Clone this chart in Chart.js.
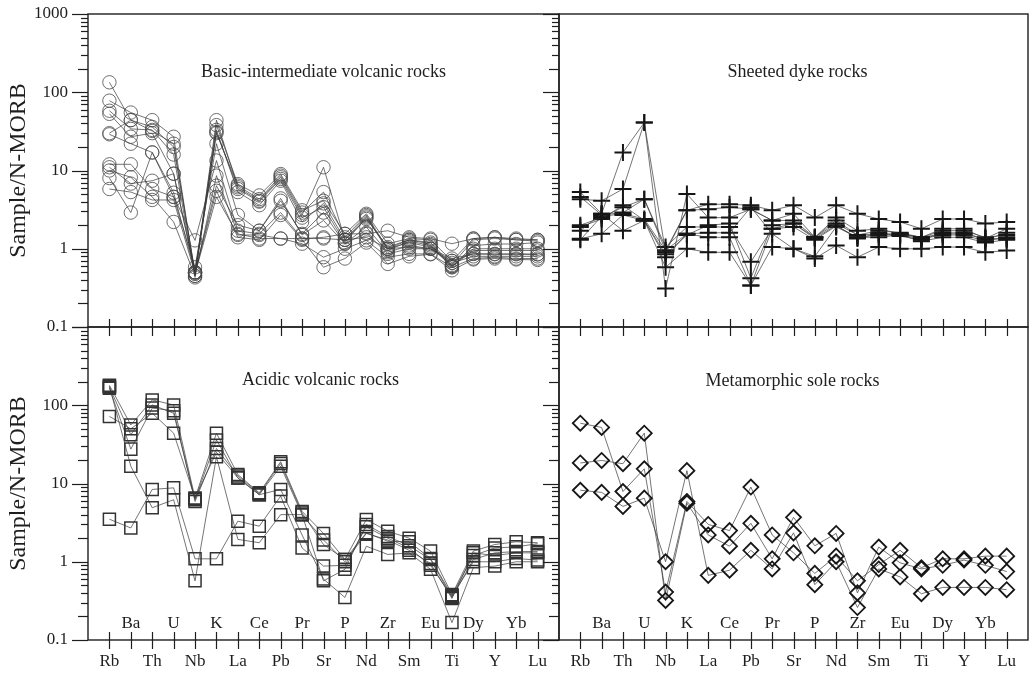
<!DOCTYPE html>
<html>
<head>
<meta charset="utf-8">
<title>N-MORB normalized spider diagrams</title>
<script src="https://cdn.jsdelivr.net/npm/chart.js@4.4.1/dist/chart.umd.min.js"></script>
<style>
  html, body { margin: 0; padding: 0; background: #fff; }
  #wrap { position: relative; width: 1031px; height: 673px; }
  #wrap canvas { position: absolute; left: 0; top: 0; }
</style>
</head>
<body>
<div id="wrap">
  <canvas id="basic" width="1031" height="673"></canvas>
  <canvas id="sheeted" width="1031" height="673"></canvas>
  <canvas id="acidic" width="1031" height="673"></canvas>
  <canvas id="sole" width="1031" height="673"></canvas>
</div>
<script>
// Element order along the x axis (N-MORB normalised)
const ELEMENTS = ['Rb','Ba','Th','U','Nb','K','La','Ce','Pb','Pr','Sr','P','Nd','Zr','Sm','Eu','Ti','Dy','Y','Yb','Lu'];
const Y_TICKS = [0.1, 1, 10, 100, 1000];
const Y_TICK_LABELS = ['0.1', '1', '10', '100', '1000'];

// Basic-intermediate volcanic rocks (one row per sample)
const BASIC = [
  [134, 44, 36, 20, 0.50, 38, 6.7, 4.8, 9.0, 3.1, 4.1, 1.55, 2.8, 1.16, 1.35, 1.30, 0.70, 1.35, 1.40, 1.35, 1.30],
  [78, 55, 44, 27, 0.45, 44, 6.1, 4.1, 8.2, 2.7, 11, 1.30, 2.4, 1.05, 1.30, 1.20, 0.62, 1.30, 1.35, 1.30, 1.25],
  [58, 34, 33, 16, 0.43, 33, 5.3, 3.6, 7.4, 2.2, 3.8, 1.30, 2.6, 0.95, 1.25, 1.10, 0.58, 1.10, 1.15, 1.15, 1.20],
  [53, 27, 30, 9.1, 0.50, 30, 6.4, 4.3, 8.6, 2.9, 5.3, 1.40, 2.7, 1.00, 1.30, 1.15, 0.60, 1.00, 1.00, 1.00, 1.00],
  [29, 22, 17, 4.6, 0.58, 22, 2.7, 1.7, 4.1, 1.55, 2.9, 1.16, 1.9, 0.90, 1.10, 1.00, 0.70, 0.86, 0.86, 0.86, 0.85],
  [12, 12, 5.8, 4.6, 1.28, 13.4, 1.7, 1.55, 2.9, 1.35, 1.4, 1.55, 1.55, 1.70, 1.40, 1.35, 1.16, 1.35, 1.40, 1.30, 1.30],
  [10, 8.2, 4.6, 2.2, 0.45, 8.6, 1.55, 1.35, 1.35, 1.16, 0.78, 1.00, 1.28, 0.78, 0.86, 0.86, 0.58, 0.75, 0.78, 0.75, 0.75],
  [8.0, 2.9, 17, 5.2, 0.50, 5.5, 1.40, 1.30, 2.7, 1.30, 0.58, 0.75, 1.20, 0.64, 0.80, 0.85, 0.53, 0.73, 0.75, 0.73, 0.72],
  [5.8, 5.3, 4.2, 4.2, 0.48, 4.6, 1.50, 1.50, 1.35, 1.35, 1.35, 1.30, 1.40, 1.00, 1.05, 1.00, 0.75, 0.86, 0.85, 0.85, 0.85],
  [30, 44, 32, 22, 0.48, 31, 5.8, 4.0, 7.8, 2.5, 3.4, 1.20, 2.5, 1.00, 1.20, 1.05, 0.60, 0.95, 0.95, 0.95, 0.95],
  [11, 6.8, 7.4, 9.1, 0.50, 6.4, 2.0, 1.7, 4.4, 1.50, 2.3, 1.16, 1.6, 0.86, 1.00, 1.00, 0.66, 0.80, 0.80, 0.80, 0.80]
];

// Sheeted dyke rocks
const SHEETED = [
  [5.3, 2.8, 17, 41, 0.90, 3.1, 3.7, 3.7, 3.6, 3.1, 3.6, 2.5, 3.6, 2.8, 2.4, 2.2, 1.8, 2.4, 2.4, 2.1, 2.2],
  [4.3, 4.1, 5.8, 41, 0.31, 5.0, 2.5, 2.5, 3.2, 2.3, 2.8, 1.4, 2.5, 1.7, 1.8, 1.55, 1.4, 1.8, 1.8, 1.35, 1.8],
  [2.0, 2.5, 3.4, 4.3, 1.05, 1.9, 1.9, 1.9, 0.68, 1.8, 2.1, 1.4, 2.1, 1.5, 1.55, 1.55, 1.4, 1.55, 1.55, 1.35, 1.35],
  [1.34, 1.55, 2.7, 2.3, 0.78, 1.55, 1.4, 1.4, 0.34, 1.05, 1.0, 0.75, 1.1, 0.78, 1.05, 1.0, 1.0, 1.05, 1.05, 0.9, 0.95],
  [1.7, 2.8, 1.7, 2.3, 0.58, 1.0, 0.9, 0.9, 0.34, 1.8, 1.9, 1.3, 1.95, 1.4, 1.5, 1.5, 1.35, 1.5, 1.5, 1.25, 1.4],
  [4.6, 2.7, 2.9, 4.3, 0.95, 3.1, 3.2, 3.4, 3.2, 2.3, 2.3, 1.4, 2.3, 1.5, 1.7, 1.6, 1.4, 1.7, 1.7, 1.4, 1.5],
  [1.9, 2.4, 3.6, 2.3, 0.85, 1.5, 2.0, 2.1, 0.42, 2.0, 2.1, 1.35, 2.0, 1.35, 1.6, 1.45, 1.3, 1.6, 1.6, 1.3, 1.6],
  [1.3, 2.6, 2.8, 2.4, 0.95, 1.55, 1.6, 1.6, 3.4, 1.55, 1.0, 0.8, 1.9, 1.4, 1.4, 1.5, 1.25, 1.4, 1.4, 1.2, 1.3]
];

// Acidic volcanic rocks
const ACIDIC = [
  [180, 56, 117, 101, 6.5, 44, 13, 7.6, 19, 4.4, 2.3, 1.07, 3.46, 2.46, 2.0, 1.37, 0.38, 1.37, 1.66, 1.8, 1.75],
  [170, 42, 101, 79, 6.2, 36, 11.8, 7.2, 16.6, 4.0, 0.57, 0.8, 3.0, 2.1, 1.6, 1.07, 0.35, 1.07, 1.3, 1.35, 1.35],
  [165, 27.5, 92, 85, 5.9, 28, 12.5, 7.4, 18, 4.2, 1.66, 1.07, 2.34, 1.83, 1.8, 1.1, 0.37, 1.2, 1.5, 1.55, 1.7],
  [72, 50, 79, 44, 6.5, 25, 11.8, 7.2, 8.4, 2.2, 0.6, 0.35, 1.58, 1.24, 1.3, 0.8, 0.167, 0.84, 0.88, 1.0, 1.0],
  [3.5, 2.7, 8.4, 8.8, 1.09, 1.09, 3.3, 2.85, 6.9, 1.5, 0.88, 0.9, 2.8, 2.0, 1.5, 0.9, 0.36, 1.0, 1.0, 1.1, 1.05],
  [175, 16.6, 4.9, 6.2, 0.57, 22, 1.93, 1.75, 4.0, 4.0, 1.9, 1.0, 2.3, 1.9, 1.4, 0.95, 0.34, 1.3, 1.2, 1.3, 1.3]
];

// Metamorphic sole rocks
const SOLE = [
  [59, 52, 7.9, 15.4, 0.41, 5.9, 3.0, 2.5, 9.0, 2.2, 1.3, 0.71, 1.18, 0.57, 0.92, 1.4, 0.84, 1.09, 1.09, 1.18, 1.18],
  [18.3, 19.7, 17.9, 44, 0.32, 5.6, 2.2, 1.58, 3.1, 1.09, 3.7, 1.6, 2.3, 0.40, 1.54, 0.97, 0.81, 0.9, 1.05, 0.9, 0.75],
  [8.2, 7.7, 5.1, 6.5, 1.0, 14.6, 0.67, 0.78, 1.4, 0.81, 2.34, 0.51, 1.0, 0.26, 0.81, 0.64, 0.39, 0.47, 0.47, 0.47, 0.44]
];

const INK = '#1e1e1e';
const SERIF = '"Liberation Serif", "DejaVu Serif", serif';

// frame, ticks and text, all placed through the chart's own scales
const framePlugin = {
  id: 'frame',
  afterDraw(chart, args, opts) {
    const { ctx, chartArea: a, scales: { x, y } } = chart;
    const line = (x1, y1, x2, y2) => { ctx.beginPath(); ctx.moveTo(x1, y1); ctx.lineTo(x2, y2); ctx.stroke(); };
    ctx.save();
    ctx.strokeStyle = INK;
    ctx.lineWidth = 1.4;
    ctx.strokeRect(a.left, a.top, a.right - a.left, a.bottom - a.top);

    // log ticks on the left edge, pointing outwards
    ctx.lineWidth = 1.2;
    for (let e = -1; e <= 3; e++) {
      for (let m = 1; m <= 9; m++) {
        const v = m * Math.pow(10, e);
        if (v > 1000.001) break;
        const py = Math.round(y.getPixelForValue(v)) + 0.5;
        const len = m === 1 ? 16 : m === 2 ? 10 : 7;
        line(a.left - len, py, a.left, py);
      }
    }
    // element ticks crossing the bottom edge
    ELEMENTS.forEach((el, i) => {
      const px = Math.round(x.getPixelForValue(i)) + 0.5;
      line(px, a.bottom - 8, px, a.bottom + 9);
    });

    ctx.fillStyle = INK;
    if (opts.yLabels) {
      ctx.font = '17px ' + SERIF;
      ctx.textAlign = 'right';
      ctx.textBaseline = 'middle';
      Y_TICKS.forEach((v, i) => {
        if (opts.skipTop && v === 1000) return;
        ctx.fillText(Y_TICK_LABELS[i], a.left - 20, y.getPixelForValue(v));
      });
      ctx.save();
      ctx.font = '24px ' + SERIF;
      ctx.textAlign = 'center';
      ctx.translate(19, (a.top + a.bottom) / 2);
      ctx.rotate(-Math.PI / 2);
      ctx.fillText('Sample/N-MORB', 0, 0);
      ctx.restore();
    }
    if (opts.xLabels) {
      ctx.font = '17px ' + SERIF;
      ctx.textAlign = 'center';
      ctx.textBaseline = 'middle';
      ELEMENTS.forEach((el, i) => {
        const px = x.getPixelForValue(i);
        ctx.fillText(el, px, i % 2 === 0 ? a.bottom + 22 : a.bottom - 16);
      });
    }
    ctx.font = '18px ' + SERIF;
    ctx.textAlign = 'center';
    ctx.textBaseline = 'middle';
    ctx.fillText(opts.title, (a.left + a.right) / 2 + opts.titleDx, a.top + opts.titleDy);
    ctx.restore();
  }
};

function toDatasets(rows, mark) {
  return rows.map(r => ({
    data: r.map((v, i) => ({ x: i, y: v })),
    borderColor: '#3a3a3a',
    borderWidth: 0.7,
    pointStyle: mark.shape,
    pointRadius: mark.r,
    pointBorderColor: mark.color,
    pointBorderWidth: mark.w,
    pointBackgroundColor: 'rgba(0,0,0,0)',
    tension: 0,
    fill: false,
    clip: false
  }));
}

function makePanel(id, rows, mark, pad, frame) {
  new Chart(document.getElementById(id), {
    type: 'line',
    data: { datasets: toDatasets(rows, mark) },
    options: {
      responsive: false,
      animation: false,
      events: [],
      layout: { padding: pad, autoPadding: false },
      scales: {
        x: { type: 'linear', min: -1, max: 21, display: false },
        y: { type: 'logarithmic', min: 0.1, max: 1000, display: false }
      },
      plugins: { legend: { display: false }, tooltip: { enabled: false }, frame }
    },
    plugins: [framePlugin]
  });
}

makePanel('basic', BASIC, { shape: 'circle', r: 6.7, color: '#4a4a4a', w: 0.8 },
  { left: 88, top: 14, right: 472, bottom: 346 },
  { yLabels: true, xLabels: false, skipTop: false, title: 'Basic-intermediate volcanic rocks', titleDx: 0, titleDy: 58 });
makePanel('sheeted', SHEETED, { shape: 'cross', r: 8.5, color: '#161616', w: 2 },
  { left: 559, top: 14, right: 3, bottom: 346 },
  { yLabels: false, xLabels: false, title: 'Sheeted dyke rocks', titleDx: 4, titleDy: 58 });
makePanel('acidic', ACIDIC, { shape: 'rect', r: 8.5, color: '#333', w: 1.5 },
  { left: 88, top: 327, right: 472, bottom: 33 },
  { yLabels: true, xLabels: true, skipTop: true, title: 'Acidic volcanic rocks', titleDx: -3, titleDy: 53 });
makePanel('sole', SOLE, { shape: 'rectRot', r: 7.5, color: '#161616', w: 1.8 },
  { left: 559, top: 327, right: 3, bottom: 33 },
  { yLabels: false, xLabels: true, title: 'Metamorphic sole rocks', titleDx: -1, titleDy: 54 });
</script>
</body>
</html>
